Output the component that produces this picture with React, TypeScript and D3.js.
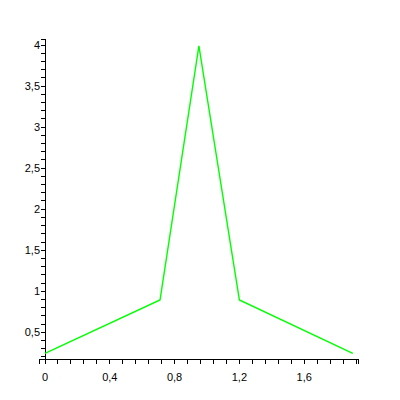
import React from "react";
import * as d3 from "d3";

const xValues = [0, 0.71, 0.95, 1.2, 1.9];
const yValues = [0.245, 0.894, 3.99, 0.894, 0.245];
const xMajorTicks = [0, 0.4, 0.8, 1.2, 1.6];
const xTickLabels = ["0", "0,4", "0,8", "1,2", "1,6"];
const yMajorTicks = [0.5, 1, 1.5, 2, 2.5, 3, 3.5, 4];
const yTickLabels = ["0,5", "1", "1,5", "2", "2,5", "3", "3,5", "4"];

export default function App() {
  const W = 400;
  const H = 400;
  const x = d3.scaleLinear().domain([0, 1]).range([45, 207]);
  const y = d3.scaleLinear().domain([0, 4]).range([373.4, 45]);
  const xMin = -0.037, xMax = 1.938;
  const yMin = 0.172, yMax = 4.073;
  const axisY = y(yMin);
  const axisX = x(0);

  const xMinor = d3.range(0, 1.93, 0.08);
  const yMinor = d3.range(0.2, 4.05, 0.1).filter((v) => v >= yMin && v <= 4.001);

  const line = d3
    .line<number>()
    .x((_, i) => x(xValues[i]))
    .y((d) => y(d));

  const font = "'Liberation Sans', Arial, sans-serif";

  return (
    <svg
      width={W}
      height={H}
      style={{ position: "absolute", left: 0, top: 0, background: "#fff" }}
    >
      <g stroke="#000" strokeWidth={1} shapeRendering="crispEdges">
        <line x1={x(xMin)} x2={x(xMax)} y1={axisY} y2={axisY} />
        <line x1={axisX} x2={axisX} y1={y(yMax)} y2={axisY + 5} />
        {xMinor.map((v, i) => (
          <line key={"xm" + i} x1={x(v)} x2={x(v)} y1={axisY} y2={axisY + 5} />
        ))}
        <line x1={x(xMin)} x2={x(xMin)} y1={axisY} y2={axisY + 5} />
        <line x1={x(xMax)} x2={x(xMax)} y1={axisY} y2={axisY + 5} />
        {yMinor.map((v, i) => (
          <line key={"ym" + i} x1={axisX - 4} x2={axisX} y1={y(v)} y2={y(v)} />
        ))}
        <line x1={axisX - 4} x2={axisX} y1={y(yMax)} y2={y(yMax)} />
      </g>
      <g fontFamily={font} fontSize={11} fill="#000">
        {xMajorTicks.map((v, i) => (
          <text key={"xl" + i} x={x(v)} y={axisY + 22} textAnchor="middle">
            {xTickLabels[i]}
          </text>
        ))}
        {yMajorTicks.map((v, i) => (
          <text key={"yl" + i} x={axisX - 5} y={y(v) + 4} textAnchor="end">
            {yTickLabels[i]}
          </text>
        ))}
      </g>
      <path
        d={line(yValues) || ""}
        fill="none"
        stroke="#00ff00"
        strokeWidth={1.4}
        strokeLinejoin="miter"
      />
    </svg>
  );
}
